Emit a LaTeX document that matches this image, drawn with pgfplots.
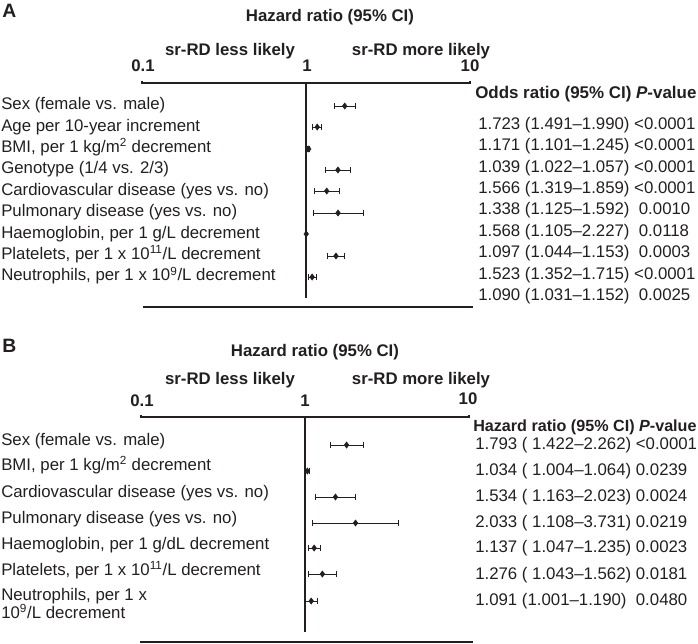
\documentclass[border=0pt]{standalone}
\usepackage{pgfplots}
\pgfplotsset{compat=1.18}
\usepackage{pgfplotstable}
\usepackage{fontspec}
\setmainfont{Liberation Sans}
\definecolor{ink}{HTML}{231F20}

% panel A: odds ratio, CI low, CI high, row position (px)
\pgfplotstableread{
or lo hi y
1.723 1.491 1.990 106
1.171 1.101 1.245 127
1.039 1.022 1.057 149
1.566 1.319 1.859 170
1.338 1.125 1.592 191
1.568 1.105 2.227 213
1.003 0.999 1.007 234
1.523 1.352 1.715 256
1.090 1.031 1.152 277
}\tabA

% panel B: hazard ratio, CI low, CI high, row position (px)
\pgfplotstableread{
or lo hi y
1.793 1.422 2.262 445
1.034 1.004 1.064 471
1.534 1.163 2.023 497
2.033 1.108 3.731 523
1.137 1.047 1.235 548
1.276 1.043 1.562 574
1.091 1.001 1.190 601
}\tabB

\newcommand{\bfs}{\fontsize{12.6}{14}\bfseries}

\begin{document}
\begin{tikzpicture}[font=\fontsize{12.6}{14}\selectfont, color=ink, text=ink]
\begin{scope}[x=0.75pt, y=-0.75pt]
\path[use as bounding box] (0,0) rectangle (698,643);

% ---------- Panel A texts ----------
\node[anchor=base west, inner sep=0pt, font=\fontsize{14.5}{16}\bfseries] at (2,17) {A};
\node[anchor=base, inner sep=0pt, font=\bfs] at (330,21) {Hazard ratio (95\% CI)};
\node[anchor=base, inner sep=0pt, font=\bfs] at (230,55) {sr-RD less likely};
\node[anchor=base, inner sep=0pt, font=\bfs] at (421,55) {sr-RD more likely};
\node[anchor=base, inner sep=0pt, font=\bfs] at (143,71) {0.1};
\node[anchor=base, inner sep=0pt, font=\bfs] at (307,71) {1};
\node[anchor=base, inner sep=0pt, font=\bfs] at (470,71) {10};

\foreach \t [count=\i from 0] in {
  Sex (female vs. male),
  Age per 10-year increment,
  {BMI, per 1 kg/m\textsuperscript{2} decrement},
  Genotype (1/4 vs. 2/3),
  Cardiovascular disease (yes vs. no),
  Pulmonary disease (yes vs. no),
  {Haemoglobin, per 1 g/L decrement},
  {Platelets, per 1 x 10\textsuperscript{11}/L decrement},
  {Neutrophils, per 1 x 10\textsuperscript{9}/L decrement}}
  \node[anchor=base west, inner sep=0pt] at (1,109.6+21.4*\i) {\t};

\node[anchor=base west, inner sep=0pt, font=\fontsize{12.7}{14}\bfseries] at (475,98) {Odds ratio (95\% CI) \textit{P}-value};

\foreach \t [count=\i from 0] in {
  1.723 (1.491--1.990) {<}0.0001,
  1.171 (1.101--1.245) {<}0.0001,
  1.039 (1.022--1.057) {<}0.0001,
  1.566 (1.319--1.859) {<}0.0001,
  1.338 (1.125--1.592)\ \ 0.0010,
  1.568 (1.105--2.227)\ \ 0.0118,
  1.097 (1.044--1.153)\ \ 0.0003,
  1.523 (1.352--1.715) {<}0.0001,
  1.090 (1.031--1.152)\ \ 0.0025}
  \node[anchor=base west, inner sep=0pt] at (478,129.3+21.4*\i) {\t};

\draw[line width=0.9pt] (143,307) -- (473,307);

% ---------- Panel B texts ----------
\node[anchor=base west, inner sep=0pt, font=\fontsize{14.5}{16}\bfseries] at (2,352) {B};
\node[anchor=base, inner sep=0pt, font=\bfs] at (315,356) {Hazard ratio (95\% CI)};
\node[anchor=base, inner sep=0pt, font=\bfs] at (230,384) {sr-RD less likely};
\node[anchor=base, inner sep=0pt, font=\bfs] at (421,384) {sr-RD more likely};
\node[anchor=base, inner sep=0pt, font=\bfs] at (142,406) {0.1};
\node[anchor=base, inner sep=0pt, font=\bfs] at (305,406) {1};
\node[anchor=base, inner sep=0pt, font=\bfs] at (468,404) {10};

\foreach \t/\yy in {
  Sex (female vs. male)/445,
  {BMI, per 1 kg/m\textsuperscript{2} decrement}/470.5,
  Cardiovascular disease (yes vs. no)/497.5,
  Pulmonary disease (yes vs. no)/523,
  {Haemoglobin, per 1 g/dL decrement}/549,
  {Platelets, per 1 x 10\textsuperscript{11}/L decrement}/575.5,
  {Neutrophils, per 1 x}/600,
  {10\textsuperscript{9}/L decrement}/618}
  \node[anchor=base west, inner sep=0pt] at (1,\yy) {\t};

\node[anchor=base west, inner sep=0pt, font=\fontsize{12.1}{14}\bfseries] at (473,431) {Hazard ratio (95\% CI) \textit{P}-value};

\foreach \t/\yy in {
  {1.793 ( 1.422--2.262) {<}0.0001}/449,
  {1.034 ( 1.004--1.064) 0.0239}/475,
  {1.534 ( 1.163--2.023) 0.0024}/501.5,
  {2.033 ( 1.108--3.731) 0.0219}/527,
  {1.137 ( 1.047--1.235) 0.0023}/552.5,
  {1.276 ( 1.043--1.562) 0.0181}/579,
  {1.091 (1.001--1.190)\ \ 0.0480}/605}
  \node[anchor=base west, inner sep=0pt] at (475,\yy) {\t};

\draw[line width=0.9pt] (140,642) -- (473,642);
\end{scope}

% ---------- Panel A plot ----------
\begin{axis}[scale only axis, width=246pt, height=161.25pt, anchor=north west,
    xmode=log, xmin=0.1, xmax=10, y dir=reverse, hide axis, clip=false,
    at={(106.5pt,-62.25pt)}, ymin=83, ymax=298]
\draw[line width=0.9pt, ink] (axis cs:0.1,80.5) -- (axis cs:0.1,83) -- (axis cs:10,83) -- (axis cs:10,80.5);
\addplot[line width=0.9pt, ink] coordinates {(1,83) (1,298)};
\addplot[only marks, ink, mark=diamond*, mark size=2.3pt,
    error bars/.cd, x dir=both, x explicit,
    error bar style={line width=0.7pt, ink},
    error mark options={rotate=90, line width=0.7pt, mark size=2.3pt, ink}]
  table[x=or, y=y,
  x error plus expr=\thisrow{hi}-\thisrow{or},
  x error minus expr=\thisrow{or}-\thisrow{lo}] {\tabA};
\end{axis}

% ---------- Panel B plot ----------
\begin{axis}[scale only axis, width=246pt, height=161.25pt, anchor=north west,
    xmode=log, xmin=0.1, xmax=10, y dir=reverse, hide axis, clip=false,
    at={(105.75pt,-312.75pt)}, ymin=417, ymax=632]
\draw[line width=0.9pt, ink] (axis cs:0.1,414.5) -- (axis cs:0.1,417) -- (axis cs:10,417) -- (axis cs:10,414.5);
\addplot[line width=0.9pt, ink] coordinates {(1,417) (1,632)};
\addplot[only marks, ink, mark=diamond*, mark size=2.3pt,
    error bars/.cd, x dir=both, x explicit,
    error bar style={line width=0.7pt, ink},
    error mark options={rotate=90, line width=0.7pt, mark size=2.3pt, ink}]
  table[x=or, y=y,
  x error plus expr=\thisrow{hi}-\thisrow{or},
  x error minus expr=\thisrow{or}-\thisrow{lo}] {\tabB};
\end{axis}
\end{tikzpicture}
\end{document}
